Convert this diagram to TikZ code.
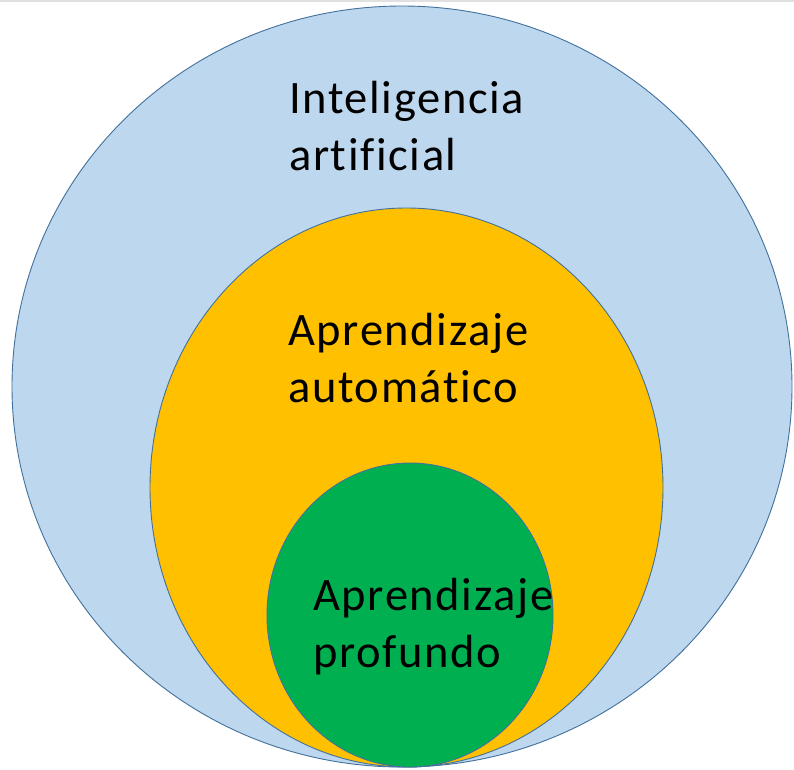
\documentclass[tikz,border=0pt]{standalone}
\usepackage{fontspec}
\setmainfont[Ligatures=NoCommon,LetterSpace=3.5]{Carlito}
\definecolor{iablue}{HTML}{BDD7EE}
\definecolor{maorange}{HTML}{FFC000}
\definecolor{dlgreen}{HTML}{00B050}
\definecolor{rimblue}{HTML}{41719C}
\begin{document}
\begin{tikzpicture}[x=1pt,y=-1pt,line join=round,
	rim/.style={draw=rimblue,line width=0.9pt},
	lbl/.style={anchor=base west,align=left,inner sep=0pt,font=\fontsize{46.5}{57}\selectfont}]
	\useasboundingbox (0,0) rectangle (794,769);
	\fill[white] (0,0) rectangle (794,769);
	\fill[black!12] (0,0) rectangle (794,2);
	% circles
	\fill[iablue,rim] (402,386.5) ellipse [x radius=390,y radius=380.5];
	\fill[maorange,rim] (406.5,487.5) ellipse [x radius=256.5,y radius=279.5];
	\fill[dlgreen,rim] (410,615) ellipse [x radius=143,y radius=152];
	% labels (base = last line)
	\node[lbl] (ia) at (289,170) {Inteligencia\\artificial};
	\node[lbl] (ma) at (288,402) {Aprendizaje\\automático};
	\node[lbl] (dl) at (313,667) {Aprendizaje\\profundo};
\end{tikzpicture}
\end{document}
